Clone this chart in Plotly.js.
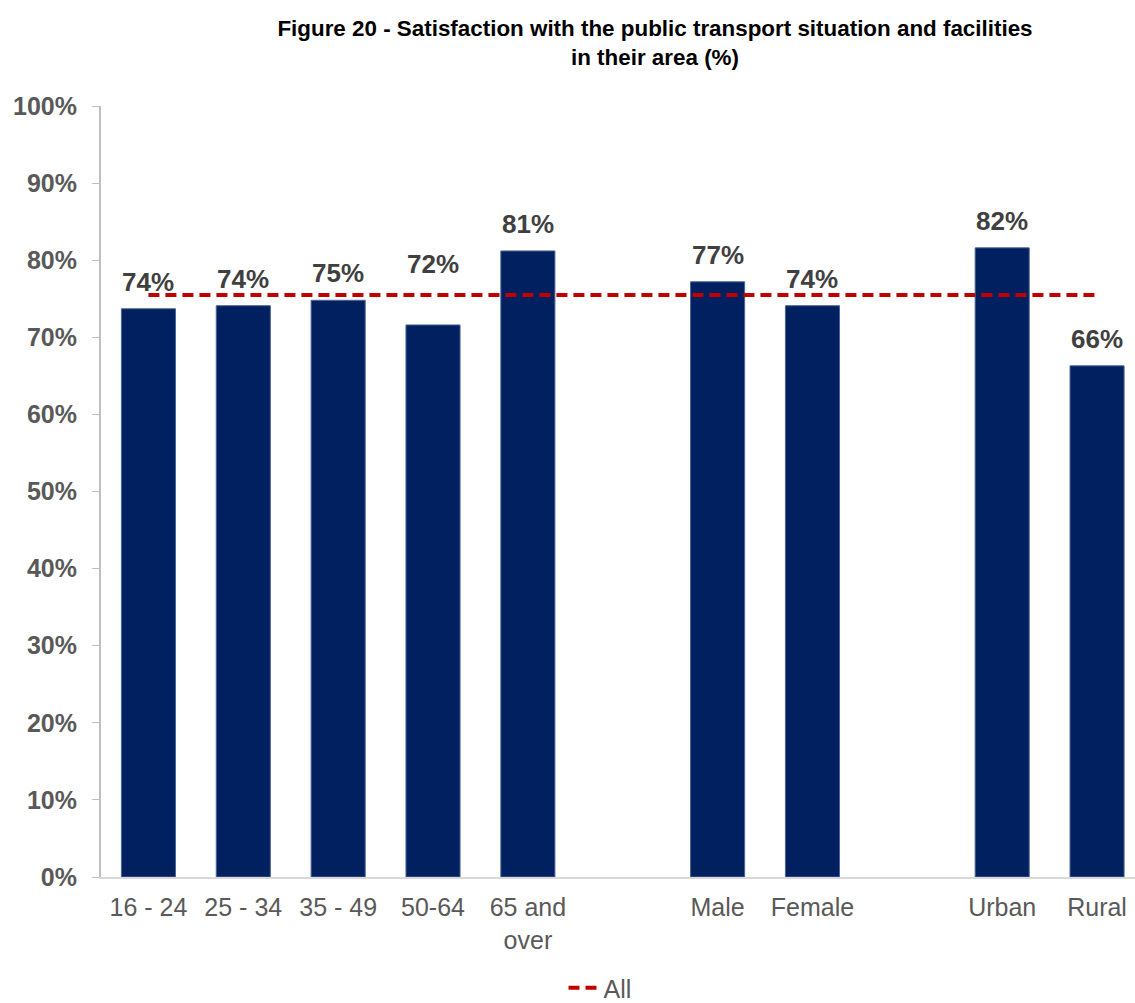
<!DOCTYPE html>
<html>
<head>
<meta charset="utf-8">
<script src="https://cdn.plot.ly/plotly-3.0.1.min.js"></script>
<style>html,body{margin:0;padding:0;background:#fff;} #chart{width:1135px;height:1003px;}</style>
</head>
<body>
<div id="chart"></div>
<script>
// Data
const categories = ['16 - 24', '25 - 34', '35 - 49', '50-64', '65 and<br>over', '', 'Male', 'Female', '', 'Urban', 'Rural'];
const satisfaction = [73.7, 74.1, 74.8, 71.6, 81.2, null, 77.2, 74.1, null, 81.6, 66.3];
const allLine = [75.5, 75.5, 75.5, 75.5, 75.5, 75.5, 75.5, 75.5, 75.5, 75.5, 75.5];
const yTicks = [0, 10, 20, 30, 40, 50, 60, 70, 80, 90, 100];

// Style: vertical offset (px) of each data label above its bar
const labelShift = [10, 10, 10, 44, 10, 0, 10, 10, 0, 10, 10];

const xIdx = categories.map((c, i) => i);

const barTrace = {
  type: 'bar',
  x: xIdx,
  y: satisfaction,
  width: 0.57,
  marker: {color: '#002060', line: {color: '#4A6497', width: 1}},
  showlegend: false,
  hoverinfo: 'skip'
};

const lineTrace = {
  type: 'scatter',
  mode: 'lines',
  name: 'All',
  x: xIdx,
  y: allLine,
  line: {color: '#C00000', width: 4, dash: '11px,6px'},
  hoverinfo: 'skip'
};

const annotations = [];
satisfaction.forEach((v, i) => {
  if (v === null) return;
  annotations.push({
    x: i, y: v, xref: 'x', yref: 'y',
    text: Math.round(v) + '%',
    showarrow: false,
    yanchor: 'bottom',
    yshift: labelShift[i],
    font: {family: 'Liberation Sans, Arial, sans-serif', size: 26, color: '#404040', weight: 'bold'}
  });
});

const layout = {
  width: 1135,
  height: 1003,
  margin: {l: 101, r: 0, t: 106, b: 126, autoexpand: false},
  paper_bgcolor: '#ffffff',
  plot_bgcolor: '#ffffff',
  font: {family: 'Liberation Sans, Arial, sans-serif', color: '#595959'},
  title: {
    text: '<b>Figure 20 - Satisfaction with the public transport situation and facilities<br>in their area (%)</b>',
    font: {family: 'Liberation Sans, Arial, sans-serif', size: 22.4, color: '#000000'},
    xref: 'container', x: 655 / 1135, xanchor: 'center',
    yref: 'container', y: 1 - 36 / 1003, yanchor: 'top'
  },
  xaxis: {
    range: [-0.5, 10.4],
    tickmode: 'array',
    tickvals: xIdx,
    ticktext: categories,
    showgrid: false,
    zeroline: false,
    showline: true,
    linecolor: '#D9D9D9',
    linewidth: 2,
    ticks: '',
    ticklabelstandoff: 7,
    tickfont: {size: 25, color: '#595959'},
    automargin: false,
    fixedrange: true
  },
  yaxis: {
    range: [0, 100],
    tickmode: 'array',
    tickvals: yTicks,
    ticktext: yTicks.map(t => t + '%'),
    showgrid: false,
    zeroline: false,
    showline: true,
    linecolor: '#BFBFBF',
    linewidth: 2,
    ticks: 'outside',
    ticklen: 7,
    tickwidth: 1,
    tickcolor: '#BFBFBF',
    ticklabelstandoff: 10,
    tickfont: {size: 25, color: '#595959', weight: 'bold'},
    automargin: false,
    fixedrange: true
  },
  showlegend: true,
  legend: {
    orientation: 'h',
    xref: 'paper', x: (600 - 101) / 1034, xanchor: 'center',
    yref: 'paper', y: (877 - 988) / 771, yanchor: 'middle',
    font: {size: 25, color: '#595959'},
    bgcolor: 'rgba(0,0,0,0)'
  },
  annotations: annotations,
  bargap: 0.4
};

Plotly.newPlot('chart', [barTrace, lineTrace], layout, {displayModeBar: false, staticPlot: true});
</script>
</body>
</html>
